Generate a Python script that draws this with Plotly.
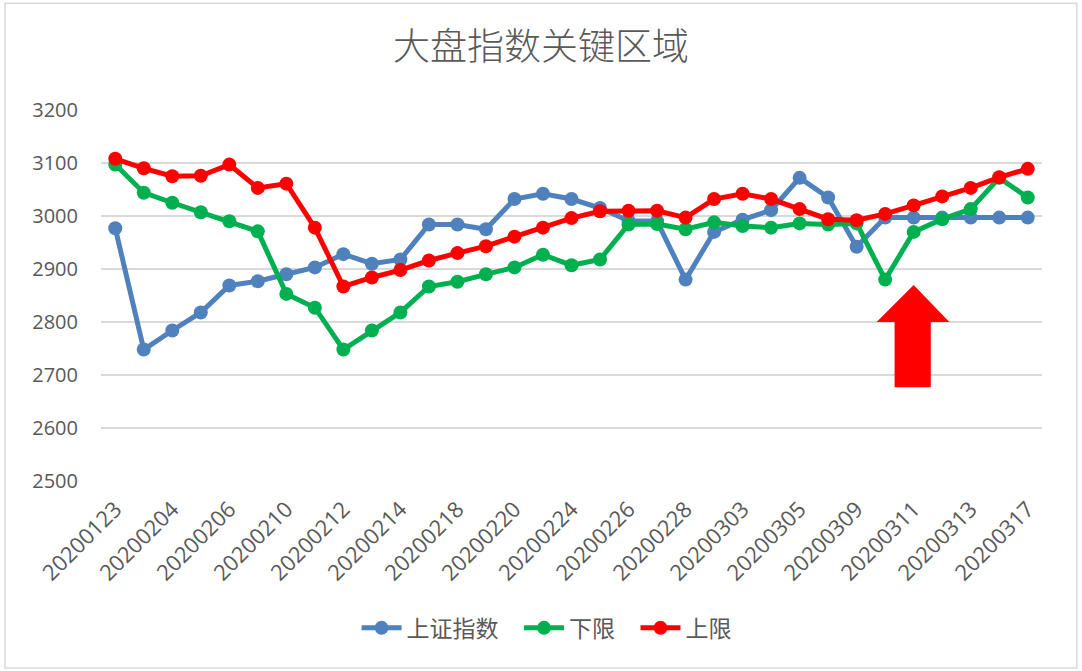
import plotly.graph_objects as go

dates = ["20200123", "20200203", "20200204", "20200205", "20200206", "20200207",
         "20200210", "20200211", "20200212", "20200213", "20200214", "20200217",
         "20200218", "20200219", "20200220", "20200221", "20200224", "20200225",
         "20200226", "20200227", "20200228", "20200302", "20200303", "20200304",
         "20200305", "20200306", "20200309", "20200310", "20200311", "20200312",
         "20200313", "20200316", "20200317"]

tick_labels = ["20200123", "20200204", "20200206", "20200210", "20200212", "20200214",
               "20200218", "20200220", "20200224", "20200226", "20200228", "20200303",
               "20200305", "20200309", "20200311", "20200313", "20200317"]

index_sh = [2977, 2748, 2784, 2818, 2869, 2877, 2890, 2903, 2928, 2910, 2918, 2984,
            2984, 2975, 3032, 3042, 3032, 3015, 2991, 2990, 2880, 2970, 2993, 3011,
            3072, 3035, 2942, 2997, 2997, 2997, 2997, 2997, 2997]

lower = [3097, 3044, 3025, 3007, 2990, 2971, 2853, 2827, 2748, 2784, 2818, 2867,
         2876, 2890, 2903, 2927, 2907, 2918, 2984, 2985, 2975, 2988, 2981, 2978,
         2986, 2984, 2986, 2880, 2970, 2994, 3013, 3072, 3035]

upper = [3108, 3090, 3075, 3076, 3097, 3053, 3061, 2978, 2867, 2884, 2898, 2916,
         2930, 2943, 2961, 2978, 2996, 3009, 3010, 3010, 2997, 3032, 3042, 3032,
         3013, 2994, 2992, 3004, 3020, 3037, 3053, 3073, 3089]

series = [("上证指数", index_sh, "#4F81BD"),
          ("下限", lower, "#00B050"),
          ("上限", upper, "#FF0000")]

fig = go.Figure()
for name, vals, color in series:
    fig.add_trace(go.Scatter(
        x=dates, y=vals, name=name + "\u00a0\u00a0\u00a0", mode="lines+markers",
        line=dict(color=color, width=5),
        marker=dict(color=color, size=14),
    ))

# red arrow annotation (data coordinates)
ax = [26.7, 28.0, 29.25, 28.6, 28.6, 27.33, 27.33]
ay = [2800, 2870, 2800, 2800, 2677, 2677, 2800]
path = "M " + " L ".join(f"{x},{y}" for x, y in zip(ax, ay)) + " Z"
fig.add_shape(type="path", path=path, xref="x", yref="y",
              fillcolor="#FF0000", line=dict(width=0), layer="above")

# chart border
fig.add_shape(type="rect", xref="paper", yref="paper",
              x0=-0.102, x1=1.037, y0=-0.504, y1=1.288,
              line=dict(color="#D9D9D9", width=1.5), layer="below")

fig.update_layout(
    width=1082, height=671,
    paper_bgcolor="white", plot_bgcolor="white",
    margin=dict(l=101, r=40, t=110, b=190),
    title=dict(text="大盘指数关键区域", x=0.5, xanchor="center",
               y=1 - 47 / 671, yanchor="middle", yref="container",
               font=dict(family="Noto Sans CJK SC", size=37, color="#595959", weight=300)),
    font=dict(family="Open Sans, Noto Sans CJK SC", color="#595959"),
    showlegend=True,
    legend=dict(orientation="h", x=0.482, xanchor="center", y=-0.396, yanchor="middle",
                font=dict(family="Noto Sans CJK SC", size=23, color="#595959"),
                itemwidth=40),
    xaxis=dict(type="category", categoryarray=dates, range=[-0.5, 32.5],
               tickmode="array", tickvals=tick_labels, ticktext=tick_labels,
               tickangle=-45, showgrid=False, showline=False, ticks="",
               tickfont=dict(size=22, color="#595959"), ticklabelstandoff=10),
    yaxis=dict(range=[2500, 3200], dtick=100, showgrid=True,
               gridcolor="#D9D9D9", gridwidth=1.5, zeroline=False, showline=False,
               tickfont=dict(size=20, color="#595959"), ticklabelstandoff=22),
)

fig.write_html("out.html")
